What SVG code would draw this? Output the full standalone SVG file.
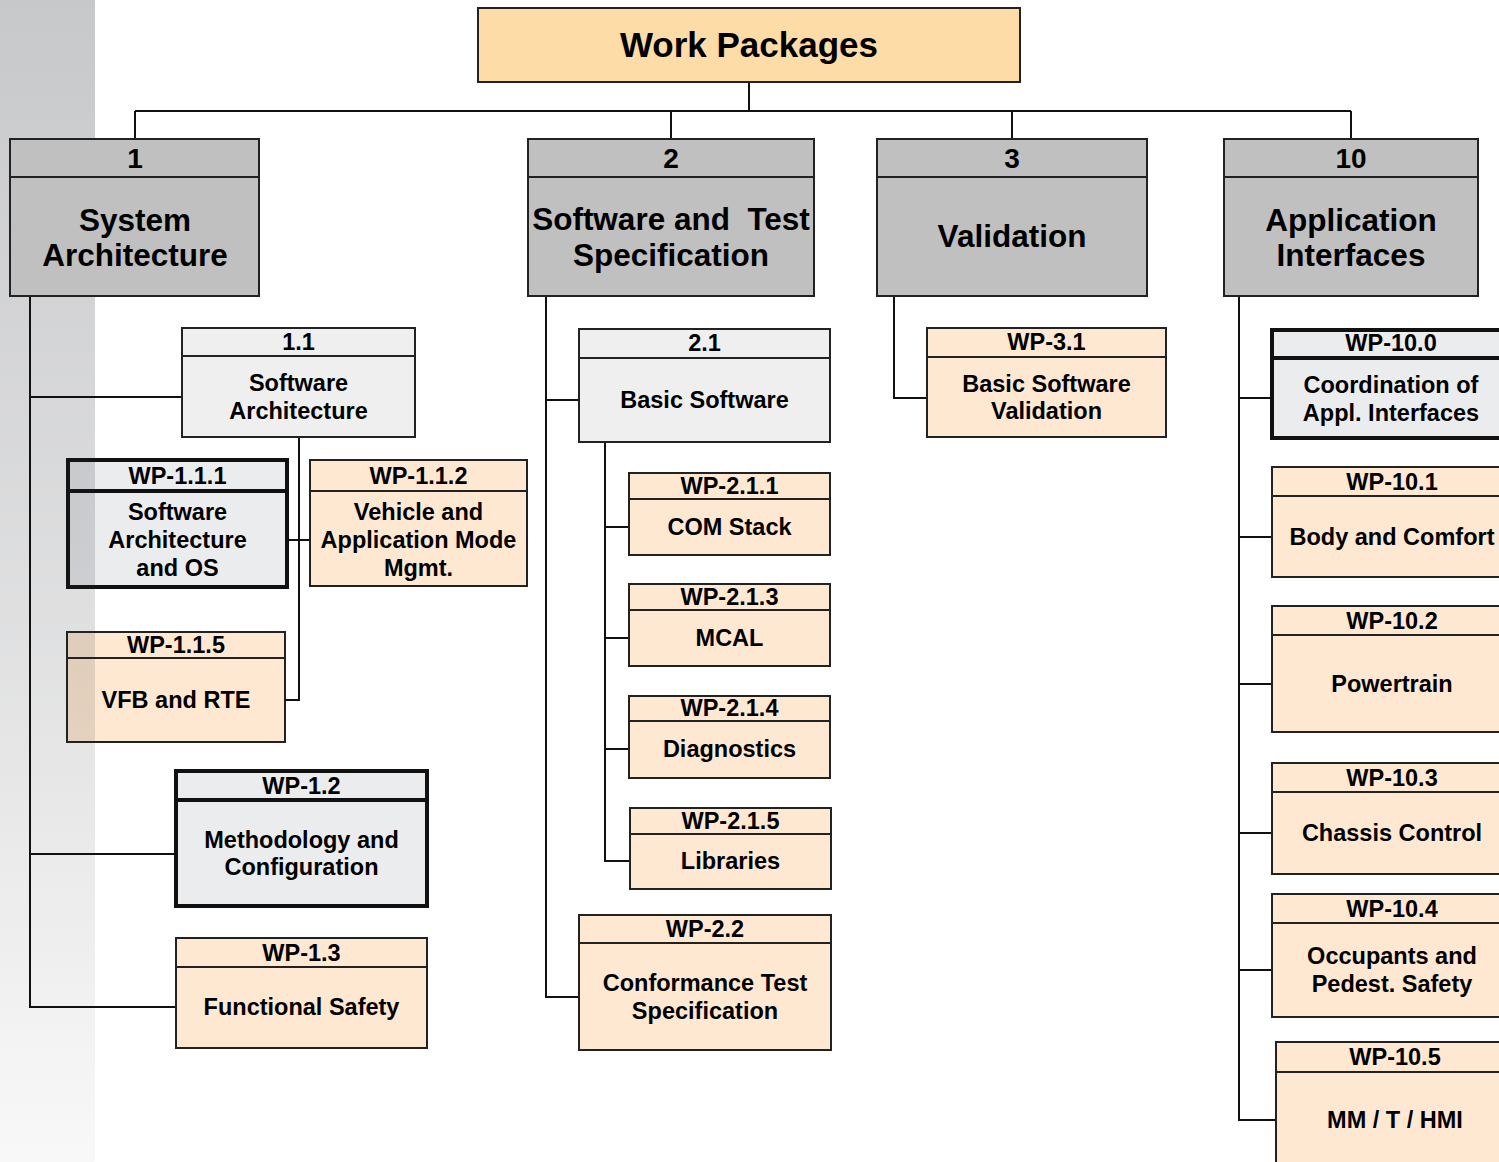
<svg xmlns="http://www.w3.org/2000/svg" width="1499" height="1162" viewBox="0 0 1499 1162">
<defs>
<linearGradient id="strip" x1="0" y1="0" x2="0" y2="1">
<stop offset="0" stop-color="#20232a" stop-opacity="0.25"/>
<stop offset="0.5" stop-color="#20232a" stop-opacity="0.15"/>
<stop offset="1" stop-color="#20232a" stop-opacity="0.03"/>
</linearGradient>
<style>
text{font-family:"Liberation Sans",Arial,sans-serif;font-weight:bold;fill:#000;text-anchor:middle}
.t0{font-size:35px}
.t1{font-size:31.5px}
.n1{font-size:28px}
.t2{font-size:23.5px}
.l1{fill:#c0c0c0;stroke:#222;stroke-width:2}
.gr{fill:#efefef;stroke:#222;stroke-width:2}
.wp{fill:#fee8d2;stroke:#222;stroke-width:2}
.th{fill:#ebecee;stroke:#111;stroke-width:4}
.top{fill:#fddca8;stroke:#222;stroke-width:2}
.d{stroke:#222;stroke-width:2;fill:none}
.dt{stroke:#111;stroke-width:4;fill:none}
.c{stroke:#111;stroke-width:2;fill:none}
</style>
</defs>
<rect width="1499" height="1162" fill="#fff"/>

<g id="wp-1-1-1">
<rect class="th" x="68" y="460" width="219" height="127"/>
<line class="dt" x1="68" y1="491" x2="287" y2="491"/>
<text class="t2" x="177.5" y="484">WP-1.1.1</text>
<text class="t2" x="177.5" y="520">Software</text>
<text class="t2" x="177.5" y="548">Architecture</text>
<text class="t2" x="177.5" y="576">and OS</text>
</g>
<g id="wp-1-1-5">
<rect class="wp" x="67" y="632" width="218" height="110"/>
<line class="d" x1="67" y1="658" x2="285" y2="658"/>
<text class="t2" x="176" y="653">WP-1.1.5</text>
<text class="t2" x="176" y="708">VFB and RTE</text>
</g>

<rect x="0" y="0" width="95" height="1162" fill="url(#strip)"/>

<g id="connectors">
<path class="c" d="M749 82V111M135 111H1351M135 111V139M671 111V139M1012 111V139M1351 111V139"/>
<path class="c" d="M30 296V1007H176M30 397H182M30 854H175"/>
<path class="c" d="M299 437V700H285M287 540H310"/>
<path class="c" d="M546 296V997H579M546 400H579"/>
<path class="c" d="M605 442V861H630M605 527H629M605 638H629M605 749H629"/>
<path class="c" d="M894 296V398H927"/>
<path class="c" d="M1239 296V1120H1276M1239 398H1271M1239 537H1272M1239 684H1272M1239 833H1272M1239 970H1272"/>
</g>

<g id="work-packages">
<rect class="top" x="478" y="8" width="542" height="74"/>
<text class="t0" x="749" y="57">Work Packages</text>
</g>

<g id="n1">
<rect class="l1" x="10" y="139" width="249" height="157"/>
<line class="d" x1="10" y1="177" x2="259" y2="177"/>
<text class="n1" x="135" y="168">1</text>
<text class="t1" x="135" y="231">System</text>
<text class="t1" x="135" y="266">Architecture</text>
</g>
<g id="n2">
<rect class="l1" x="528" y="139" width="286" height="157"/>
<line class="d" x1="528" y1="177" x2="814" y2="177"/>
<text class="n1" x="671" y="168">2</text>
<text class="t1" x="671" y="230" style="white-space:pre">Software and  Test</text>
<text class="t1" x="671" y="266">Specification</text>
</g>
<g id="n3">
<rect class="l1" x="877" y="139" width="270" height="157"/>
<line class="d" x1="877" y1="177" x2="1147" y2="177"/>
<text class="n1" x="1012" y="168">3</text>
<text class="t1" x="1012" y="247">Validation</text>
</g>
<g id="n10">
<rect class="l1" x="1224" y="139" width="254" height="157"/>
<line class="d" x1="1224" y1="177" x2="1478" y2="177"/>
<text class="n1" x="1351" y="168">10</text>
<text class="t1" x="1351" y="231">Application</text>
<text class="t1" x="1351" y="266">Interfaces</text>
</g>

<g id="n1-1">
<rect class="gr" x="182" y="328" width="233" height="109"/>
<line class="d" x1="182" y1="356" x2="415" y2="356"/>
<text class="t2" x="298.5" y="350">1.1</text>
<text class="t2" x="298.5" y="391">Software</text>
<text class="t2" x="298.5" y="419">Architecture</text>
</g>
<g id="wp-1-1-2">
<rect class="wp" x="310" y="460" width="217" height="126"/>
<line class="d" x1="310" y1="491" x2="527" y2="491"/>
<text class="t2" x="418.5" y="484">WP-1.1.2</text>
<text class="t2" x="418.5" y="520">Vehicle and</text>
<text class="t2" x="418.5" y="548">Application Mode</text>
<text class="t2" x="418.5" y="576">Mgmt.</text>
</g>
<g id="wp-1-2">
<rect class="th" x="176" y="771" width="251" height="135"/>
<line class="dt" x1="176" y1="800" x2="427" y2="800"/>
<text class="t2" x="301.5" y="794">WP-1.2</text>
<text class="t2" x="301.5" y="848">Methodology and</text>
<text class="t2" x="301.5" y="875">Configuration</text>
</g>
<g id="wp-1-3">
<rect class="wp" x="176" y="938" width="251" height="110"/>
<line class="d" x1="176" y1="967" x2="427" y2="967"/>
<text class="t2" x="301.5" y="961">WP-1.3</text>
<text class="t2" x="301.5" y="1015">Functional Safety</text>
</g>

<g id="n2-1">
<rect class="gr" x="579" y="329" width="251" height="113"/>
<line class="d" x1="579" y1="358" x2="830" y2="358"/>
<text class="t2" x="704.5" y="351">2.1</text>
<text class="t2" x="704.5" y="408">Basic Software</text>
</g>
<g id="wp-2-1-1">
<rect class="wp" x="629" y="473" width="201" height="82"/>
<line class="d" x1="629" y1="499" x2="830" y2="499"/>
<text class="t2" x="729.5" y="494">WP-2.1.1</text>
<text class="t2" x="729.5" y="535">COM Stack</text>
</g>
<g id="wp-2-1-3">
<rect class="wp" x="629" y="584" width="201" height="82"/>
<line class="d" x1="629" y1="610" x2="830" y2="610"/>
<text class="t2" x="729.5" y="605">WP-2.1.3</text>
<text class="t2" x="729.5" y="646">MCAL</text>
</g>
<g id="wp-2-1-4">
<rect class="wp" x="629" y="696" width="201" height="82"/>
<line class="d" x1="629" y1="721" x2="830" y2="721"/>
<text class="t2" x="729.5" y="716">WP-2.1.4</text>
<text class="t2" x="729.5" y="757">Diagnostics</text>
</g>
<g id="wp-2-1-5">
<rect class="wp" x="630" y="808" width="201" height="81"/>
<line class="d" x1="630" y1="834" x2="831" y2="834"/>
<text class="t2" x="730.5" y="829">WP-2.1.5</text>
<text class="t2" x="730.5" y="869">Libraries</text>
</g>
<g id="wp-2-2">
<rect class="wp" x="579" y="915" width="252" height="135"/>
<line class="d" x1="579" y1="943" x2="831" y2="943"/>
<text class="t2" x="705" y="937">WP-2.2</text>
<text class="t2" x="705" y="991">Conformance Test</text>
<text class="t2" x="705" y="1019">Specification</text>
</g>

<g id="wp-3-1">
<rect class="wp" x="927" y="328" width="239" height="109"/>
<line class="d" x1="927" y1="357" x2="1166" y2="357"/>
<text class="t2" x="1046.5" y="350">WP-3.1</text>
<text class="t2" x="1046.5" y="392">Basic Software</text>
<text class="t2" x="1046.5" y="419">Validation</text>
</g>

<g id="wp-10-0">
<rect class="th" x="1272" y="330" width="240" height="108"/>
<line class="dt" x1="1272" y1="358" x2="1512" y2="358"/>
<text class="t2" x="1391" y="351">WP-10.0</text>
<text class="t2" x="1391" y="393">Coordination of</text>
<text class="t2" x="1391" y="421">Appl. Interfaces</text>
</g>
<g id="wp-10-1">
<rect class="wp" x="1272" y="467" width="240" height="110"/>
<line class="d" x1="1272" y1="496" x2="1512" y2="496"/>
<text class="t2" x="1392" y="490">WP-10.1</text>
<text class="t2" x="1392" y="545">Body and Comfort</text>
</g>
<g id="wp-10-2">
<rect class="wp" x="1272" y="606" width="240" height="126"/>
<line class="d" x1="1272" y1="635" x2="1512" y2="635"/>
<text class="t2" x="1392" y="629">WP-10.2</text>
<text class="t2" x="1392" y="692">Powertrain</text>
</g>
<g id="wp-10-3">
<rect class="wp" x="1272" y="763" width="240" height="111"/>
<line class="d" x1="1272" y1="792" x2="1512" y2="792"/>
<text class="t2" x="1392" y="786">WP-10.3</text>
<text class="t2" x="1392" y="841">Chassis Control</text>
</g>
<g id="wp-10-4">
<rect class="wp" x="1272" y="894" width="240" height="123"/>
<line class="d" x1="1272" y1="923" x2="1512" y2="923"/>
<text class="t2" x="1392" y="917">WP-10.4</text>
<text class="t2" x="1392" y="964">Occupants and</text>
<text class="t2" x="1392" y="992">Pedest. Safety</text>
</g>
<g id="wp-10-5">
<rect class="wp" x="1276" y="1042" width="240" height="130"/>
<line class="d" x1="1276" y1="1072" x2="1516" y2="1072"/>
<text class="t2" x="1395" y="1065">WP-10.5</text>
<text class="t2" x="1395" y="1128">MM / T / HMI</text>
</g>
</svg>
